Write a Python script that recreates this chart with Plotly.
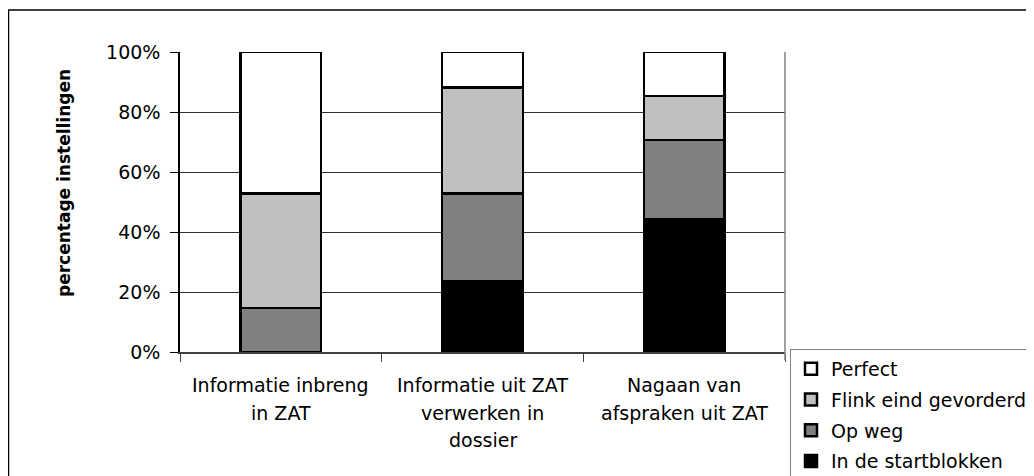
import plotly.graph_objects as go

categories = ["Informatie inbreng<br>in ZAT",
              "Informatie uit ZAT<br>verwerken in<br>dossier",
              "Nagaan van<br>afspraken uit ZAT"]
series_names = ["In de startblokken", "Op weg", "Flink eind gevorderd", "Perfect"]
startblokken = [0.0, 23.5, 44.1]
op_weg = [14.7, 29.4, 26.5]
flink = [38.2, 35.3, 14.7]
perfect = [47.1, 11.8, 14.7]
series_values = [startblokken, op_weg, flink, perfect]
series_colors = ["#000000", "#808080", "#C0C0C0", "#FFFFFF"]
y_ticks = [0, 20, 40, 60, 80, 100]
y_tick_labels = ["0%", "20%", "40%", "60%", "80%", "100%"]
y_title = "percentage instellingen"

FONT = "DejaVu Sans"
W, H = 1034, 476
L, R, T, B = 172, 777, 44, 344   # plot-area edges in figure pixels
PW, PH = R - L, B - T
LABEL_TOP = 377                   # centre of first category-label line (figure px)
LABEL_STEP = 27.5                 # line spacing of category labels

def px(x):
    return (x - L) / PW

def py(y):
    return (B - y) / PH

fig = go.Figure()
n = len(series_names)
for i, (name, vals, col) in enumerate(zip(series_names, series_values, series_colors)):
    fig.add_trace(go.Bar(
        x=categories, y=vals, name=name, legendgroup=name, legendrank=n - i,
        marker=dict(color=col, line=dict(color="#000000", width=2.5)),
        width=0.4,
    ))

# category labels, one line at a time (wider line spacing than plotly's default)
for cat in categories:
    for j, line in enumerate(cat.split("<br>")):
        fig.add_annotation(text=line, x=cat, xref="x", yref="paper",
                           y=py(LABEL_TOP + j * LABEL_STEP), yanchor="middle",
                           showarrow=False,
                           font=dict(family=FONT, size=19, color="#000000"))

# plot-area right border
fig.add_shape(type="line", xref="paper", yref="paper", x0=1, x1=1, y0=py(B + 8), y1=1,
              line=dict(color="#808080", width=1.5))
# outer chart frame
fig.add_shape(type="rect", xref="paper", yref="paper",
              x0=px(0.5), x1=px(W + 20), y0=py(H + 20), y1=py(2),
              line=dict(color="#000000", width=1.5), fillcolor="rgba(0,0,0,0)", layer="below")

fig.add_annotation(text="<b>" + y_title + "</b>", textangle=-90, xref="paper", yref="paper",
                   x=px(44), y=py(175), showarrow=False,
                   font=dict(family=FONT, size=17, color="#000000"))

fig.update_layout(
    width=W, height=H,
    margin=dict(l=L, r=W - R, t=T, b=H - B, autoexpand=False),
    barmode="stack",
    paper_bgcolor="white", plot_bgcolor="white",
    font=dict(family=FONT, size=19, color="#000000"),
    showlegend=True,
    legend=dict(xref="container", yref="container",
                x=782 / W, y=1 - 341 / H, xanchor="left", yanchor="top",
                traceorder="grouped", tracegroupgap=3, itemwidth=30,
                bordercolor="#808080", borderwidth=1, bgcolor="white",
                font=dict(family=FONT, size=19, color="#000000")),
    xaxis=dict(type="category", tickson="boundaries", ticks="outside", ticklen=8,
               tickcolor="#404040", showline=True, linecolor="#404040", linewidth=1.5,
               showgrid=False, showticklabels=False),
    yaxis=dict(range=[0, 100], tickmode="array", tickvals=y_ticks, ticktext=y_tick_labels,
               ticks="outside", ticklen=8,
               tickcolor="#000000", showline=True, linecolor="#000000", linewidth=1.5,
               showgrid=True, gridcolor="#303030", gridwidth=1, zeroline=False,
               ticklabelstandoff=6),
)

fig.write_html("out.html")
